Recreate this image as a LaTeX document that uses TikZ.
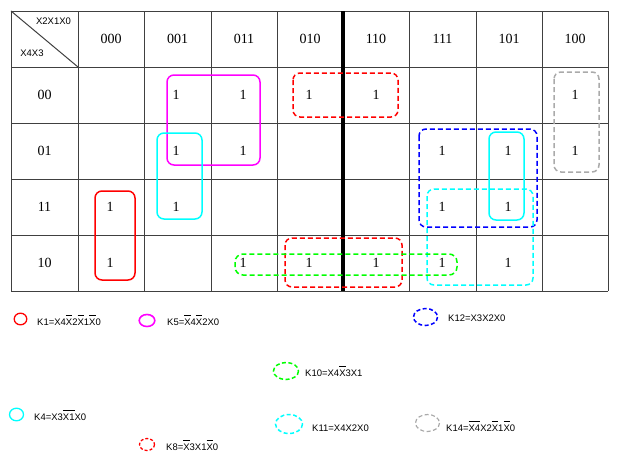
\documentclass[tikz,border=0pt]{standalone}
\usepackage{fontspec}
\setmainfont{Liberation Serif}
\setsansfont{Liberation Sans}
\newsavebox\nbbox
\newcommand\nb[1]{\sbox\nbbox{#1}\rlap{\raisebox{10pt}{\rule{\wd\nbbox}{0.8pt}}}\usebox\nbbox}
\begin{document}
\begin{tikzpicture}[x=1pt,y=-1pt,
  gridline/.style={draw=black!75,line width=1pt},
  cellnum/.style={font=\fontsize{14}{14}\selectfont,inner sep=0pt},
  hdr/.style={font=\sffamily\fontsize{9.5}{10}\selectfont,inner sep=0pt},
  legtxt/.style={font=\sffamily\fontsize{9.5}{10}\selectfont,inner sep=0pt,anchor=west},
  loopbox/.style={line width=1.5pt,rounded corners=7pt},
  dsh/.style={dash pattern=on 5pt off 3pt},
  legdsh/.style={dash pattern=on 4pt off 2.5pt}]
\definecolor{kred}{RGB}{255,0,0}
\definecolor{kmag}{RGB}{255,0,255}
\definecolor{kcyan}{RGB}{0,255,255}
\definecolor{kblue}{RGB}{0,0,255}
\definecolor{kgreen}{RGB}{0,255,0}
\definecolor{kgray}{RGB}{170,170,170}
\useasboundingbox (0,0) rectangle (623,467);
% grid
\foreach \x in {11,78,144,211,277,409,476,542,608} \draw[gridline] (\x,11) -- (\x,291);
\foreach \y in {11,67,123,179,235,291} \draw[gridline] (11,\y) -- (608,\y);
\draw[line width=3.5pt] (343,11) -- (343,291);
\draw[gridline] (11,11) -- (78,67);
% corner labels
\node[hdr] (hx) at (53.5,21.5) {X2X1X0};
\node[hdr] (hy) at (32,53) {X4X3};
% column headers
\node[cellnum] (h1) at (111,39) {000};
\node[cellnum] (h2) at (177.5,39) {001};
\node[cellnum] (h3) at (244,39) {011};
\node[cellnum] (h4) at (310,39) {010};
\node[cellnum] (h5) at (376,39) {110};
\node[cellnum] (h6) at (442.5,39) {111};
\node[cellnum] (h7) at (509,39) {101};
\node[cellnum] (h8) at (575,39) {100};
% row headers
\node[cellnum] (r1) at (44.5,95) {00};
\node[cellnum] (r2) at (44.5,151) {01};
\node[cellnum] (r3) at (44.5,207) {11};
\node[cellnum] (r4) at (44.5,263) {10};
% ones
\node[cellnum] (a12) at (176,95) {1};
\node[cellnum] (a13) at (243,95) {1};
\node[cellnum] (a14) at (309,95) {1};
\node[cellnum] (a15) at (376,95) {1};
\node[cellnum] (a18) at (575,95) {1};
\node[cellnum] (a22) at (176,151) {1};
\node[cellnum] (a23) at (243,151) {1};
\node[cellnum] (a26) at (442,151) {1};
\node[cellnum] (a27) at (508,151) {1};
\node[cellnum] (a28) at (575,151) {1};
\node[cellnum] (a31) at (110,207) {1};
\node[cellnum] (a32) at (176,207) {1};
\node[cellnum] (a36) at (442,207) {1};
\node[cellnum] (a37) at (508,207) {1};
\node[cellnum] (a41) at (110,263) {1};
\node[cellnum] (a43) at (243,263) {1};
\node[cellnum] (a44) at (309,263) {1};
\node[cellnum] (a45) at (376,263) {1};
\node[cellnum] (a46) at (442,263) {1};
\node[cellnum] (a47) at (508,263) {1};
% loops
\draw[loopbox,kmag] (167,75) rectangle (260,165);
\draw[loopbox,kcyan] (157,133) rectangle (202,219);
\draw[loopbox,kred] (95,191) rectangle (135,280);
\draw[loopbox,kred,dsh] (293,73) rectangle (398,117);
\draw[loopbox,kgray,dsh] (554,72) rectangle (599,172);
\draw[loopbox,kblue,dsh] (419,129) rectangle (537,227);
\draw[loopbox,kcyan] (489,132) rectangle (524,220);
\draw[loopbox,kcyan,dsh] (427,189) rectangle (533,285);
\draw[loopbox,kred,dsh] (285,238) rectangle (402,287);
\draw[loopbox,kgreen,dsh,rounded corners=8pt] (235,254) rectangle (457,275);
% legend
\draw[kred,line width=1.3pt] (20.5,319) ellipse (6.3 and 5.8);
\node[legtxt] (l1) at (37,320) {K1=X4\nb{X}2\nb{X}1\nb{X}0};
\draw[kmag,line width=1.6pt] (147,320.5) ellipse (7.8 and 6);
\node[legtxt] (l5) at (167,320) {K5=\nb{X}4\nb{X}2X0};
\draw[kblue,line width=1.5pt,legdsh] (425.5,317) ellipse (12 and 8.5);
\node[legtxt] (l12) at (448,318) {K12=X3X2X0};
\draw[kgreen,line width=1.5pt,legdsh] (286,371) ellipse (12.5 and 8.5);
\node[legtxt] (l10) at (305,371) {K10=X4\nb{X}3X1};
\draw[kcyan,line width=1.3pt] (16.5,414.5) ellipse (7 and 6.3);
\node[legtxt] (l4) at (34,415) {K4=X3\nb{X1}X0};
\draw[kcyan,line width=1.5pt,legdsh] (289,424) ellipse (13.5 and 9.5);
\node[legtxt] (l11) at (312,428) {K11=X4X2X0};
\draw[kgray,line width=1.2pt,legdsh] (427.5,423) ellipse (12 and 8.5);
\node[legtxt] (l14) at (446,426) {K14=\nb{X4}X2\nb{X}1\nb{X}0};
\draw[kred,line width=1.3pt,dash pattern=on 3pt off 2pt] (147,444.5) ellipse (7.5 and 6);
\node[legtxt] (l8) at (166,445) {K8=\nb{X}3X1\nb{X}0};
\end{tikzpicture}
\end{document}
